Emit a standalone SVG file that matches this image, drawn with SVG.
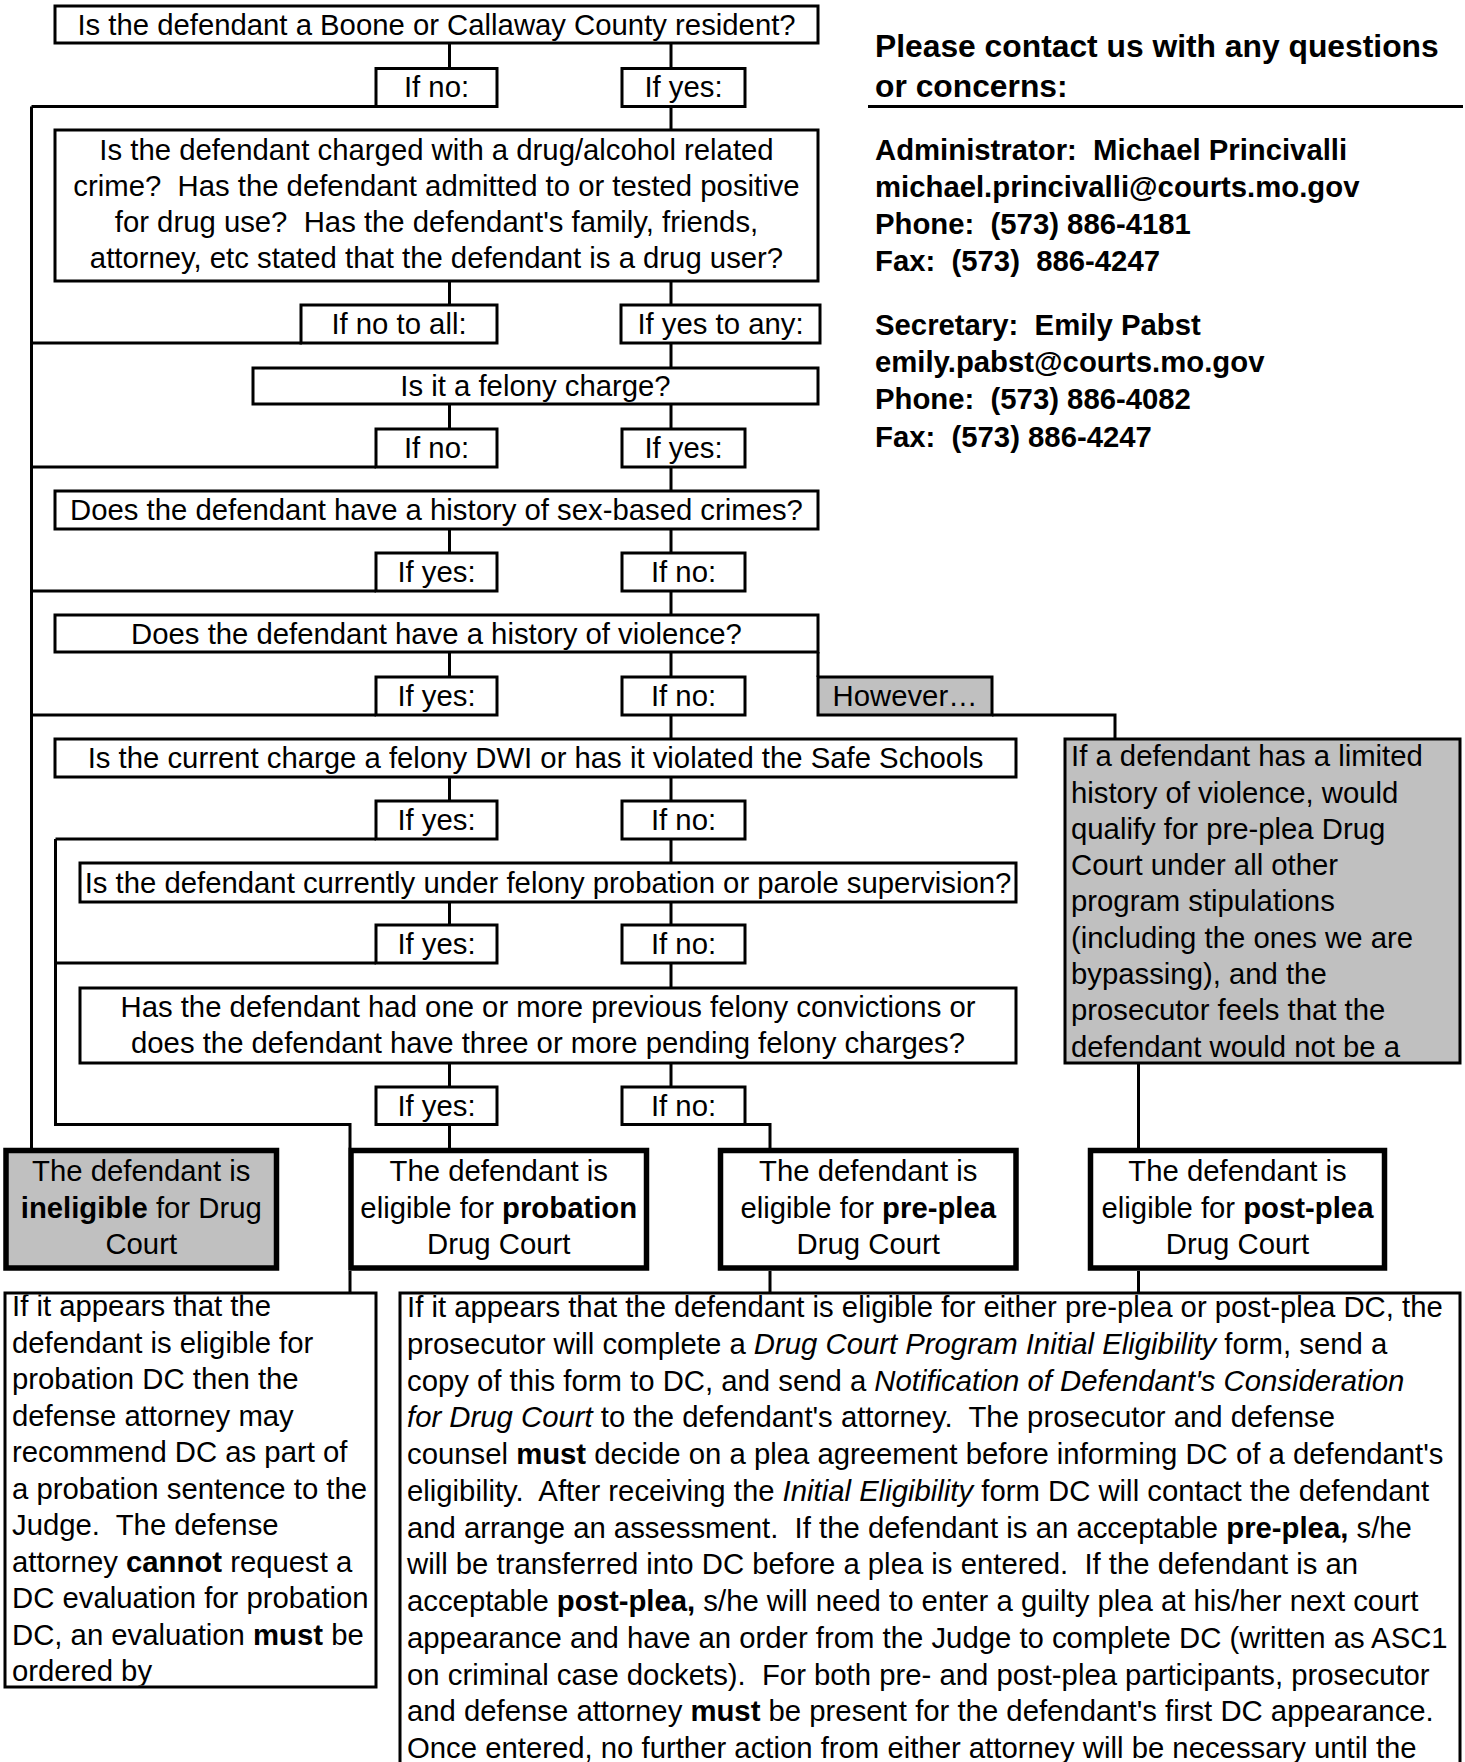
<svg xmlns="http://www.w3.org/2000/svg" width="1465" height="1762" viewBox="0 0 1465 1762">
<style>
text{font-family:"Liberation Sans",Arial,Helvetica,sans-serif;font-size:29.3px;fill:#000;white-space:pre}
.c{text-anchor:middle}
.bd{font-weight:bold}
.it{font-style:italic}
.hd{font-size:31.8px;font-weight:bold}
.ct{font-weight:bold}
.b{fill:#fff;stroke:#000;stroke-width:3}
.g{fill:#c0c0c0;stroke:#000;stroke-width:3}
.bt{fill:#fff;stroke:#000;stroke-width:5.5}
.gt{fill:#c0c0c0;stroke:#000;stroke-width:5.5}
.ln{fill:none;stroke:#000;stroke-width:3}
</style>
<defs>
<clipPath id="clipL"><rect x="6.5" y="1294.5" width="368" height="391"/></clipPath>
<clipPath id="clipG"><rect x="1066.5" y="740.5" width="392" height="321"/></clipPath>
</defs>
<rect width="1465" height="1762" fill="#fff"/>

<g id="connectors" class="ln">
<path d="M449.5 43V68.5M671 43V68.5M671 106.5V130"/>
<path d="M31.5 106.5H376M31.5 106.5V1148"/>
<path d="M449.5 281V305.5M671 281V305.5M31.5 343H302M671 343V368"/>
<path d="M449.5 404V429.5M671 404V429.5M31.5 467H376M671 467V491"/>
<path d="M449.5 529V553M671 529V553M31.5 591H376M671 591V615"/>
<path d="M449.5 652V677M671 652V677M818 652V677M992 715H1115V739M31.5 715H376M671 715V739"/>
<path d="M449.5 777V801M671 777V801M55.5 839H376M55.5 839V1124.5H350V1148M671 839V863"/>
<path d="M449.5 902V925M671 902V925M55.5 963H376M671 963V988"/>
<path d="M449.5 1063V1087M671 1063V1087M449.5 1124.5V1148M745 1124.5H770V1148"/>
<path d="M1138.5 1063V1148M350 1271V1293M770 1271V1293M1138.5 1271V1293"/>
</g>

<g id="q1"><rect class="b" x="55" y="6" width="763" height="37"/><text class="c" x="436.5" y="34.5">Is the defendant a Boone or Callaway County resident?</text></g>
<g id="l1no"><rect class="b" x="376" y="68.5" width="121" height="38"/><text class="c" x="436.5" y="97">If no:</text></g>
<g id="l1yes"><rect class="b" x="622" y="68.5" width="123" height="38"/><text class="c" x="683.5" y="97">If yes:</text></g>

<g id="q2"><rect class="b" x="55" y="130" width="763" height="151"/>
<text class="c" x="436.5" y="159.5">Is the defendant charged with a drug/alcohol related</text>
<text class="c" x="436.5" y="195.5">crime?  Has the defendant admitted to or tested positive</text>
<text class="c" x="436.5" y="231.5">for drug use?  Has the defendant's family, friends,</text>
<text class="c" x="436.5" y="267.5">attorney, etc stated that the defendant is a drug user?</text></g>
<g id="l2no"><rect class="b" x="301" y="305" width="196" height="38"/><text class="c" x="399" y="334">If no to all:</text></g>
<g id="l2yes"><rect class="b" x="621" y="305" width="199" height="38"/><text class="c" x="720.5" y="334">If yes to any:</text></g>

<g id="q3"><rect class="b" x="253" y="368" width="565" height="36"/><text class="c" x="535.5" y="396">Is it a felony charge?</text></g>
<g id="l3no"><rect class="b" x="376" y="429" width="121" height="38"/><text class="c" x="436.5" y="458">If no:</text></g>
<g id="l3yes"><rect class="b" x="622" y="429" width="123" height="38"/><text class="c" x="683.5" y="458">If yes:</text></g>

<g id="q4"><rect class="b" x="55" y="491" width="763" height="38"/><text class="c" x="436.5" y="520">Does the defendant have a history of sex-based crimes?</text></g>
<g id="l4yes"><rect class="b" x="376" y="553" width="121" height="38"/><text class="c" x="436.5" y="582">If yes:</text></g>
<g id="l4no"><rect class="b" x="622" y="553" width="123" height="38"/><text class="c" x="683.5" y="582">If no:</text></g>

<g id="q5"><rect class="b" x="55" y="615" width="763" height="37"/><text class="c" x="436.5" y="643.5">Does the defendant have a history of violence?</text></g>
<g id="l5yes"><rect class="b" x="376" y="677" width="121" height="38"/><text class="c" x="436.5" y="706">If yes:</text></g>
<g id="l5no"><rect class="b" x="622" y="677" width="123" height="38"/><text class="c" x="683.5" y="706">If no:</text></g>
<g id="however"><rect class="g" x="818" y="677" width="174" height="38"/><text class="c" x="905" y="706">However…</text></g>

<g id="note"><rect class="g" x="1065" y="739" width="395" height="324"/>
<g clip-path="url(#clipG)">
<text x="1071" y="766">If a defendant has a limited</text>
<text x="1071" y="802.5">history of violence, would</text>
<text x="1071" y="838.5">qualify for pre-plea Drug</text>
<text x="1071" y="875">Court under all other</text>
<text x="1071" y="911">program stipulations</text>
<text x="1071" y="947.5">(including the ones we are</text>
<text x="1071" y="984">bypassing), and the</text>
<text x="1071" y="1020">prosecutor feels that the</text>
<text x="1071" y="1056.5">defendant would not be a</text>
</g></g>

<g id="q6"><rect class="b" x="55" y="739" width="961" height="38"/><text class="c" x="535.5" y="768">Is the current charge a felony DWI or has it violated the Safe Schools</text></g>
<g id="l6yes"><rect class="b" x="376" y="801" width="121" height="38"/><text class="c" x="436.5" y="830">If yes:</text></g>
<g id="l6no"><rect class="b" x="622" y="801" width="123" height="38"/><text class="c" x="683.5" y="830">If no:</text></g>

<g id="q7"><rect class="b" x="80" y="863" width="936" height="39"/><text class="c" x="548" y="892.5">Is the defendant currently under felony probation or parole supervision?</text></g>
<g id="l7yes"><rect class="b" x="376" y="925" width="121" height="38"/><text class="c" x="436.5" y="954">If yes:</text></g>
<g id="l7no"><rect class="b" x="622" y="925" width="123" height="38"/><text class="c" x="683.5" y="954">If no:</text></g>

<g id="q8"><rect class="b" x="80" y="988" width="936" height="75"/>
<text class="c" x="548" y="1017">Has the defendant had one or more previous felony convictions or</text>
<text class="c" x="548" y="1053">does the defendant have three or more pending felony charges?</text></g>
<g id="l8yes"><rect class="b" x="376" y="1087" width="121" height="37.5"/><text class="c" x="436.5" y="1115.5">If yes:</text></g>
<g id="l8no"><rect class="b" x="622" y="1087" width="123" height="37.5"/><text class="c" x="683.5" y="1115.5">If no:</text></g>

<g id="ineligible"><rect class="gt" x="6" y="1150.5" width="270.5" height="117.5"/>
<text class="c" x="141.25" y="1181">The defendant is</text>
<text class="c" x="141.25" y="1217.5"><tspan class="bd">ineligible</tspan> for Drug</text>
<text class="c" x="141.25" y="1254">Court</text></g>

<g id="probation"><rect class="bt" x="351" y="1150.5" width="295.5" height="117.5"/>
<text class="c" x="498.75" y="1181">The defendant is</text>
<text class="c" x="498.75" y="1217.5">eligible for <tspan class="bd">probation</tspan></text>
<text class="c" x="498.75" y="1254">Drug Court</text></g>

<g id="preplea"><rect class="bt" x="720.5" y="1150.5" width="295.5" height="117.5"/>
<text class="c" x="868.25" y="1181">The defendant is</text>
<text class="c" x="868.25" y="1217.5">eligible for <tspan class="bd">pre-plea</tspan></text>
<text class="c" x="868.25" y="1254">Drug Court</text></g>

<g id="postplea"><rect class="bt" x="1090.5" y="1150.5" width="294" height="117.5"/>
<text class="c" x="1237.5" y="1181">The defendant is</text>
<text class="c" x="1237.5" y="1217.5">eligible for <tspan class="bd">post-plea</tspan></text>
<text class="c" x="1237.5" y="1254">Drug Court</text></g>

<g id="probnote"><rect class="b" x="5" y="1293" width="371" height="394"/>
<g clip-path="url(#clipL)">
<text x="12" y="1316">If it appears that the</text>
<text x="12" y="1352.5">defendant is eligible for</text>
<text x="12" y="1389">probation DC then the</text>
<text x="12" y="1425.5">defense attorney may</text>
<text x="12" y="1462">recommend DC as part of</text>
<text x="12" y="1498.5">a probation sentence to the</text>
<text x="12" y="1535">Judge.  The defense</text>
<text x="12" y="1571.5">attorney <tspan class="bd">cannot</tspan> request a</text>
<text x="12" y="1608">DC evaluation for probation</text>
<text x="12" y="1644.5">DC, an evaluation <tspan class="bd">must</tspan> be</text>
<text x="12" y="1681">ordered by</text>
</g></g>

<g id="pleanote"><rect class="b" x="400" y="1293" width="1060" height="520"/>
<text x="407" y="1317">If it appears that the defendant is eligible for either pre-plea or post-plea DC, the</text>
<text x="407" y="1353.75">prosecutor will complete a <tspan class="it">Drug Court Program Initial Eligibility</tspan> form, send a</text>
<text x="407" y="1390.5">copy of this form to DC, and send a <tspan class="it">Notification of Defendant's Consideration</tspan></text>
<text x="407" y="1427.25"><tspan class="it">for Drug Court</tspan> to the defendant's attorney.  The prosecutor and defense</text>
<text x="407" y="1464">counsel <tspan class="bd">must</tspan> decide on a plea agreement before informing DC of a defendant's</text>
<text x="407" y="1500.75">eligibility.  After receiving the <tspan class="it">Initial Eligibility</tspan> form DC will contact the defendant</text>
<text x="407" y="1537.5">and arrange an assessment.  If the defendant is an acceptable <tspan class="bd">pre-plea,</tspan> s/he</text>
<text x="407" y="1574.25">will be transferred into DC before a plea is entered.  If the defendant is an</text>
<text x="407" y="1611">acceptable <tspan class="bd">post-plea,</tspan> s/he will need to enter a guilty plea at his/her next court</text>
<text x="407" y="1647.75">appearance and have an order from the Judge to complete DC (written as ASC1</text>
<text x="407" y="1684.5">on criminal case dockets).  For both pre- and post-plea participants, prosecutor</text>
<text x="407" y="1721.25">and defense attorney <tspan class="bd">must</tspan> be present for the defendant's first DC appearance.</text>
<text x="407" y="1758">Once entered, no further action from either attorney will be necessary until the</text>
</g>

<g id="contact">
<text class="hd" x="875" y="57">Please contact us with any questions</text>
<text class="hd" x="875" y="97">or concerns:</text>
<path class="ln" d="M868 106.5H1463"/>
<text class="ct" x="875" y="159.5">Administrator:  Michael Princivalli</text>
<text class="ct" x="875" y="196.5">michael.princivalli@courts.mo.gov</text>
<text class="ct" x="875" y="233.5">Phone:  (573) 886-4181</text>
<text class="ct" x="875" y="270.5">Fax:  (573)  886-4247</text>
<text class="ct" x="875" y="335">Secretary:  Emily Pabst</text>
<text class="ct" x="875" y="372">emily.pabst@courts.mo.gov</text>
<text class="ct" x="875" y="409">Phone:  (573) 886-4082</text>
<text class="ct" x="875" y="446.5">Fax:  (573) 886-4247</text>
</g>
</svg>
